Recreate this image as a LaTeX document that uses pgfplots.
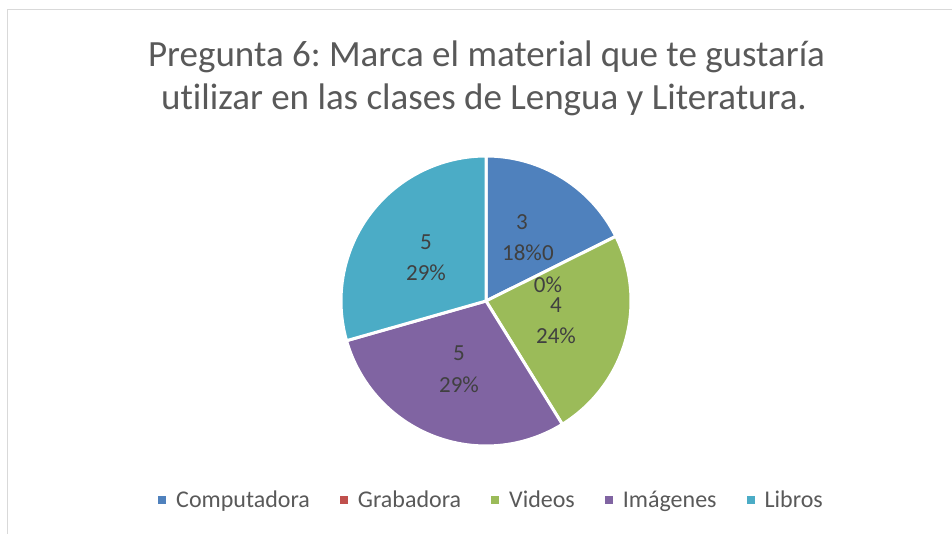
\documentclass[border=0pt]{standalone}
\usepackage{fontspec}
\setmainfont{Carlito}[Ligatures={NoCommon}]
\usepackage{pgfplots}
\pgfplotsset{compat=1.18}
\frenchspacing

\definecolor{cComp}{HTML}{4F81BD}
\definecolor{cGrab}{HTML}{C0504D}
\definecolor{cVid}{HTML}{9BBB59}
\definecolor{cImg}{HTML}{8064A2}
\definecolor{cLib}{HTML}{4BACC6}
\definecolor{txt}{HTML}{595959}
\definecolor{lbl}{HTML}{404040}

% answers per material
\def\vComp{3}
\def\vGrab{0}
\def\vVid{4}
\def\vImg{5}
\def\vLib{5}

\begin{document}
\begin{tikzpicture}
\pgfmathsetmacro{\tot}{\vComp+\vGrab+\vVid+\vImg+\vLib}
\pgfmathsetmacro{\aA}{90}
\pgfmathsetmacro{\aB}{\aA-360*\vComp/\tot}
\pgfmathsetmacro{\aC}{\aB-360*\vGrab/\tot}
\pgfmathsetmacro{\aD}{\aC-360*\vVid/\tot}
\pgfmathsetmacro{\aE}{\aD-360*\vImg/\tot}
\pgfmathsetmacro{\aF}{\aE-360*\vLib/\tot}
\begin{axis}[
    width=952pt, height=534pt, scale only axis,
    xmin=0, xmax=952, ymin=0, ymax=534,
    hide axis, clip=false,
    legend columns=-1,
    legend style={draw=none, fill=none, at={(0.5163,0.0637)}, anchor=center,
        font=\fontsize{24}{27}\selectfont, text=txt,
        /tikz/every odd column/.style={column sep=8pt},
        /tikz/every even column/.style={column sep=28pt}},
    legend image code/.code={\path[#1, draw=none] (0pt,-4pt) rectangle (8pt,4pt);},
    every axis plot/.append style={draw=white, line width=3pt, samples=60, variable=\t},
]
% frame
\draw[black!15, line width=1pt] (axis cs:7,-5) -- (axis cs:7,524) -- (axis cs:960,524);

\addplot[fill=cComp, domain=\aB:\aA] ({486+145*cos(\t)}, {233+145*sin(\t)}) -- (axis cs:486,233) -- cycle;
\addlegendentry{Computadora}
\addlegendimage{fill=cGrab}
\addlegendentry{Grabadora}
\addplot[fill=cVid, domain=\aD:\aC] ({486+145*cos(\t)}, {233+145*sin(\t)}) -- (axis cs:486,233) -- cycle;
\addlegendentry{Videos}
\addplot[fill=cImg, domain=\aE:\aD] ({486+145*cos(\t)}, {233+145*sin(\t)}) -- (axis cs:486,233) -- cycle;
\addlegendentry{Imágenes}
\addplot[fill=cLib, domain=\aF:\aE] ({486+145*cos(\t)}, {233+145*sin(\t)}) -- (axis cs:486,233) -- cycle;
\addlegendentry{Libros}

% title
\node[text=txt, font=\fontsize{37}{44}\selectfont] at (axis cs:486.5,477) {Pregunta 6: Marca el material que te gustaría};
\node[text=txt, font=\fontsize{37}{44}\selectfont] at (axis cs:484,434) {utilizar en las clases de Lengua y Literatura.};

% data labels
\begin{scope}[every node/.style={text=lbl, font=\fontsize{23}{26}\selectfont}]
\node at (axis cs:522,312) {3};
\node at (axis cs:522,281) {18\%};
\node at (axis cs:548,281) {0};
\node at (axis cs:548,249) {0\%};
\node at (axis cs:556,229) {4};
\node at (axis cs:556,198) {24\%};
\node at (axis cs:459,181) {5};
\node at (axis cs:459,149) {29\%};
\node at (axis cs:426,292) {5};
\node at (axis cs:426,261) {29\%};
\end{scope}
\end{axis}
\pgfresetboundingbox
\path[use as bounding box] (current axis.south west) rectangle (current axis.north east);
\end{tikzpicture}
\end{document}
